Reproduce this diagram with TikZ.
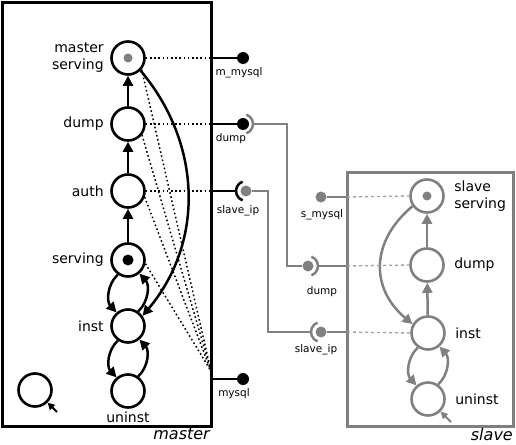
\documentclass[tikz,border=0pt]{standalone}
\usepackage{fontspec}
\setmainfont{DejaVu Sans}
\usetikzlibrary{arrows.meta}
\definecolor{slavegray}{RGB}{128,128,128}
\begin{document}
\begin{tikzpicture}[x=1pt,y=1pt,
  every node/.style={font=\fontsize{14}{17}\selectfont},
  mstate/.style={circle,draw=black,line width=2.6pt,minimum size=33pt,inner sep=0pt},
  sstate/.style={mstate,draw=slavegray},
  mflow/.style={line width=2.5pt,-{Triangle[length=10pt,width=10pt]}},
  sflow/.style={mflow,slavegray},
  tie/.style={line width=1.5pt,dash pattern=on 1.6pt off 2.6pt},
  stie/.style={line width=1.3pt,slavegray!75,dash pattern=on 3pt off 3pt},
  wire/.style={line width=2.5pt},
  swire/.style={line width=2.5pt,slavegray},
  ball/.style={circle,fill,inner sep=0pt,minimum size=12pt},
  pin/.style={circle,fill,inner sep=0pt,minimum size=11pt},
  portlbl/.style={font=\fontsize{10.5}{12}\selectfont},
  boxlbl/.style={font=\itshape\fontsize{16}{18}\selectfont,anchor=north east,inner sep=1pt},
  initarrow/.style={line width=2pt,-{Triangle[length=7pt,width=7pt]}},
]
\useasboundingbox (0,0) rectangle (516,-444);

% ---------- master component ----------
\draw[line width=3pt] (2,-3) rectangle (211,-426);
\node[boxlbl] (mlabel) at (211,-427) {master};

\node[mstate,label={[align=right,label distance=3pt]left:master\\serving}] (ms) at (128,-58) {};
\node[mstate,label={[label distance=3pt]left:dump}] (md) at (128,-124) {};
\node[mstate,label={[label distance=3pt]left:auth}] (ma) at (128,-191) {};
\node[mstate,label={[label distance=3pt]left:serving}] (mv) at (128,-260) {};
\node[mstate,label={[label distance=3pt]left:inst}] (mi) at (128,-326) {};
\node[mstate,label={[label distance=0pt]below:uninst}] (mu) at (128,-391) {};
\node[mstate] (legend) at (35,-390) {};
\coordinate (legendtail) at (57,-412);
\draw[initarrow] (legendtail) -- (legend.-45);

\node[circle,fill=slavegray,inner sep=0pt,minimum size=9pt] (msdot) at (ms) {};
\node[circle,fill=black,inner sep=0pt,minimum size=11pt] (mvdot) at (mv) {};

\draw[mflow] (md) -- (ms);
\draw[mflow] (ma) -- (md);
\draw[mflow] (mv) -- (ma);
\draw[mflow] (mv.235) to[bend right=45] (mi.130);
\draw[mflow] (mi.55) to[bend right=45] (mv.-50);
\draw[mflow] (mi.235) to[bend right=45] (mu.130);
\draw[mflow] (mu.55) to[bend right=45] (mi.-50);
\draw[mflow] (ms.-45) to[out=-50,in=50] (mi.35);

% boundary points of the master ports
\coordinate (pm1) at (211,-58);
\coordinate (pm2) at (211,-124);
\coordinate (pm3) at (211,-191);
\coordinate (pmfan) at (211,-371);
\coordinate (pm4) at (211,-379);

\draw[tie] (ms.east) -- (pm1);
\draw[tie] (md.east) -- (pm2);
\draw[tie] (ma.east) -- (pm3);
\draw[tie] (ms.-40) -- (pmfan);
\draw[tie] (md.-38) -- (pmfan);
\draw[tie] (ma.-20) -- (pmfan);
\draw[tie] (mv.-12) -- (pmfan);

% master ports
\node[ball] (bm1) at (243,-58) {};
\node[ball] (bm2) at (243,-124) {};
\node[pin,fill=slavegray] (bm3) at (246,-191) {};
\node[ball] (bm4) at (243,-379) {};
\draw[wire] (pm1) -- (bm1);
\draw[wire] (pm2) -- (bm2);
\draw[wire] (pm4) -- (bm4);
\draw[wire] (246,-191) ++(110:10) arc[start angle=110,end angle=250,radius=10];
\coordinate (sockm3) at (236,-191);
\draw[wire] (pm3) -- (sockm3);
\draw[swire] (243,-124) ++(70:10) arc[start angle=70,end angle=-70,radius=10];
\coordinate (sockm2) at (253,-124);

\node[portlbl] (lm1) at (239,-73) {m\_mysql};
\node[portlbl] (lm2) at (231,-139) {dump};
\node[portlbl] (lm3) at (238,-211) {slave\_ip};
\node[portlbl] (lm4) at (234,-394) {mysql};

% ---------- slave component ----------
\draw[line width=3pt,slavegray] (347,-172) rectangle (513,-426);
\node[boxlbl] (slabel) at (514,-427) {slave};

\node[sstate,label={[align=left,label distance=6pt]right:slave\\serving}] (ss) at (427,-196) {};
\node[sstate,label={[label distance=6pt]right:dump}] (sd) at (427,-265) {};
\node[sstate,label={[label distance=6pt]right:inst}] (si) at (428,-333) {};
\node[sstate,label={[label distance=6pt]right:uninst}] (su) at (428,-399) {};
\node[circle,fill=slavegray,inner sep=0pt,minimum size=9pt] (ssdot) at (ss) {};
\coordinate (sutail) at (451,-422);
\draw[initarrow,slavegray] (sutail) -- (su.-45);

\draw[sflow] (sd) -- (ss);
\draw[sflow] (si) -- (sd);
\draw[sflow] (si.235) to[bend right=45] (su.130);
\draw[sflow] (su.55) to[bend right=45] (si.-50);
\draw[sflow] (ss.215) to[out=220,in=140,looseness=1.2] (si.150);

% boundary points of the slave ports
\coordinate (ps1) at (347,-197);
\coordinate (ps2) at (347,-266);
\coordinate (ps3) at (347,-332);
\draw[stie] (ps1) -- (ss.west);
\draw[stie] (ps2) -- (sd.west);
\draw[stie] (ps3) -- (si.west);

\node[pin,fill=slavegray] (bs1) at (321,-197) {};
\node[pin,fill=slavegray] (bs2) at (308,-266) {};
\node[pin,fill=slavegray] (bs3) at (321,-332) {};
\draw[swire] (bs1) -- (ps1);
\draw[swire] (308,-266) ++(70:10) arc[start angle=70,end angle=-70,radius=10];
\coordinate (socks2) at (318,-266);
\draw[swire] (socks2) -- (ps2);
\draw[swire] (321,-332) ++(110:10) arc[start angle=110,end angle=250,radius=10];
\coordinate (socks3) at (311,-332);
\draw[swire] (bs3) -- (ps3);

\node[portlbl] (ls1) at (322,-215) {s\_mysql};
\node[portlbl] (ls2) at (322,-292) {dump};
\node[portlbl] (ls3) at (316,-350) {slave\_ip};

% ---------- wiring between the components ----------
\draw[swire] (sockm2) -| (287,-266) -- (bs2);
\draw[swire] (bm3) -| (268,-332) -- (socks3);
\end{tikzpicture}
\end{document}
